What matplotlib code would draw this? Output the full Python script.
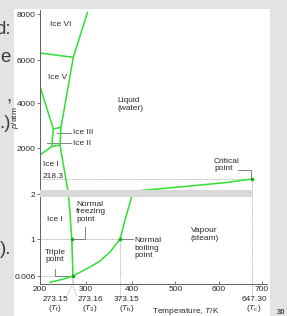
# Phasendiagramm von Wasser (schematisch) nachgezeichnet
import numpy as np
import matplotlib
matplotlib.use('Agg')
import matplotlib.pyplot as plt
from matplotlib.patches import Rectangle

plt.rcParams['font.family'] = ['Liberation Sans', 'DejaVu Sans']
plt.rcParams['mathtext.fontset'] = 'custom'
plt.rcParams['mathtext.it'] = 'Liberation Sans:italic'
plt.rcParams['mathtext.rm'] = 'Liberation Sans'

# Daten (T in K, p in atm)
melt_T = [244.3, 262.7, 266.5, 270.3, 273.16]
melt_p = [2133, 16.4, 1.58, 1.0, 0.006]

vap_T = [273.16, 309.3, 330.6, 351.9, 373.15, 384.6, 399.9, 409.8, 540.4, 608.6, 647.3]
vap_p = [0.006, 0.248, 0.409, 0.651, 1.0, 1.42, 1.94, 45.3, 121.7, 165.0, 218.3]

subl_T = [222.2, 248.8, 273.16]
subl_p = [0.0013, 0.0034, 0.006]

# Grenzen zwischen den Eisphasen
ice_I_II = ([200, 225.9], [1598, 2067])
ice_I_III = ([225.9, 244.3], [2067, 2133])
ice_II_III = ([225.9, 229.5], [2067, 2844])
ice_III_V = ([229.5, 246.6], [2844, 2920])
ice_III_liq = ([244.3, 246.6], [2133, 2920])
ice_II_V = ([200, 229.5], [4767, 2844])
ice_V_liq = ([246.6, 273.8], [2920, 6117])
ice_V_VI = ([200, 273.8], [6304, 6117])
ice_VI_liq = ([273.8, 304.4], [6117, 8100])

# besondere Punkte
pts_T = [273.16, 270.3, 373.15, 647.3]
pts_p = [0.006, 1.0, 1.0, 218.3]

xticks = [200, 300, 400, 500, 600, 700]
yticks = [0.006, 1, 2, 2000, 4000, 6000, 8000]
ytick_labels = ['0.006', '1', '2', '2000', '4000', '6000', '8000']

# schematische Achsen: stueckweise lineare Skalen
T_knots = [0, 200, 273.16, 373.15, 600, 647.3, 700, 2000]
T_pos = [-50, 40, 73, 120, 219, 252, 262, 825]
p_knots = [-1, 0, 0.006, 1, 2, 218.3, 2000, 4000, 6000, 8000, 20000]
p_pos = [-1333, 0, 8, 45, 90, 105, 136, 181, 224, 270, 546]

fT = lambda t: np.interp(t, T_knots, T_pos)
iT = lambda v: np.interp(v, T_pos, T_knots)
fp = lambda p: np.interp(p, p_knots, p_pos)
ip = lambda v: np.interp(v, p_pos, p_knots)

green = '#2fe02f'
dotc = '#a0a0a0'
txt = '#2a2a2a'
fs = 6

fig = plt.figure(figsize=(2.87, 3.16), dpi=100)
fig.patch.set_facecolor('#e3e3e3')
fig.add_artist(Rectangle((14/287, 0), 256/287, 307/316, transform=fig.transFigure,
                         facecolor='white', edgecolor='none', zorder=-1))

ax = fig.add_axes([40/287, 1-284/316, 226.8/287, 274/316])
ax.set_facecolor('none')
ax.set_xscale('function', functions=(fT, iT))
ax.set_yscale('function', functions=(fp, ip))
ax.set_xlim(200, 711)
ax.set_ylim(0, 8174)

# Hilfslinien (gepunktet)
dots = dict(color=dotc, lw=0.6, ls=(0, (1, 1)), zorder=1)
ax.plot([200, 273.16], [0.006, 0.006], **dots)
ax.plot([200, 373.15], [1, 1], **dots)
ax.plot([200, 647.3], [218.3, 218.3], **dots)
ax.plot([270.3, 270.3], [0, 1], **dots)
ax.plot([273.16, 273.16], [0, 0.006], **dots)
ax.plot([373.15, 373.15], [0, 1], **dots)
ax.plot([647.3, 647.3], [0, 218.3], **dots)
xt = ax.get_xaxis_transform()
ax.plot([270.3, 270.3, 259.9], [0, -0.007, -0.044], transform=xt, clip_on=False, **dots)
ax.plot([273.16, 273.16, 281.7], [0, -0.007, -0.044], transform=xt, clip_on=False, **dots)
ax.plot([373.15, 373.15], [0, -0.05], transform=xt, clip_on=False, **dots)
ax.plot([647.3, 647.3], [0, -0.047], transform=xt, clip_on=False, **dots)

# Phasengrenzen
lw = 1.1
ax.plot(melt_T, melt_p, color=green, lw=lw, zorder=2)
ax.plot(vap_T, vap_p, color=green, lw=lw, zorder=2)
ax.plot(subl_T, subl_p, color=green, lw=lw, zorder=2)
for seg in [ice_I_II, ice_I_III, ice_II_III, ice_III_V, ice_III_liq,
            ice_II_V, ice_V_liq, ice_V_VI, ice_VI_liq]:
    ax.plot(seg[0], seg[1], color=green, lw=lw, zorder=2, solid_capstyle='butt')
ax.plot(pts_T, pts_p, 'o', color='#18a818', ms=2.6, mec='none', zorder=4)

# grauer Balken (Achsenbruch)
ax.fill_between([200, 647.3], 1.94, 52.5, color='#d9d9d9', lw=0, zorder=3)

# Beschriftungen
lead = dict(color='#707070', lw=0.6, zorder=1)
ax.text(246.6, 7565, 'Ice VI', fontsize=fs, color=txt, ha='center', va='center')
ax.text(239.9, 5209, 'Ice V', fontsize=fs, color=txt, ha='center', va='center')
ax.plot([237.7, 268.7], [2680, 2680], **lead)
ax.text(273.16, 2680, 'Ice III', fontsize=fs, color=txt, ha='left', va='center')
ax.plot([214.9, 268.7], [2222, 2222], **lead)
ax.text(273.16, 2222, 'Ice II', fontsize=fs, color=txt, ha='left', va='center')
ax.text(366.8, 3933, 'Liquid\n(water)', fontsize=fs, color=txt, ha='left', va='center',
        linespacing=1.1)
ax.text(206.7, 1023, 'Ice I', fontsize=fs, color=txt, ha='left', va='center')
ax.text(206.7, 390, '218.3', fontsize=fs, color=txt, ha='left', va='center')
ax.text(233.3, 1.444, 'Ice I', fontsize=fs, color=txt, ha='center', va='center')
ax.plot([270.3, 298.7, 298.7], [1, 1, 1.273], **lead)
ax.text(279.5, 1.607, 'Normal\nfreezing\npoint', fontsize=fs, color=txt, ha='left',
        va='center', linespacing=1.1)
ax.plot([233.3, 233.3, 273.16], [0.194, 0.006, 0.006], **lead)
ax.text(233.3, 0.538, 'Triple\npoint', fontsize=fs, color=txt, ha='center', va='center',
        linespacing=1.1)
ax.plot([373.15, 403.0], [1, 1], **lead)
ax.text(405.2, 0.758, 'Normal\nboiling\npoint', fontsize=fs, color=txt, ha='left',
        va='center', linespacing=1.05)
ax.plot([627.2, 645.9, 645.9], [735, 735, 218.3], **lead)
ax.text(588.5, 1005, 'Critical\npoint', fontsize=fs, color=txt, ha='left', va='center',
        linespacing=1.05)
ax.text(535.1, 1.1, 'Vapour\n(steam)', fontsize=fs, color=txt, ha='left', va='center',
        linespacing=1.05)

# Temperaturen unter der Achse
for T, lab in [(233.3, '273.15\n($T_\\mathrm{f}$)'), (309.3, '273.16\n($T_3$)'),
               (389.2, '373.15\n($T_\\mathrm{b}$)'), (657.8, '647.30\n($T_\\mathrm{c}$)')]:
    ax.text(T, -0.0766, lab, transform=xt, fontsize=fs, color=txt, ha='center',
            va='center', linespacing=1.0)
ax.text(524.4, -0.1, 'Temperature, $T$/K', transform=xt, fontsize=fs, color=txt,
        ha='center', va='center')

# Achsen
for s in ['top', 'right']:
    ax.spines[s].set_visible(False)
for s in ['left', 'bottom']:
    ax.spines[s].set_color('#606060')
    ax.spines[s].set_linewidth(0.7)
ax.set_xticks(xticks)
ax.set_xticklabels([str(t) for t in xticks])
ax.set_yticks(yticks)
ax.set_yticklabels(ytick_labels)
ax.minorticks_off()
ax.tick_params(axis='x', direction='in', length=2.2, width=0.6, color='#606060',
               labelsize=fs, labelcolor=txt, pad=1.5)
ax.tick_params(axis='y', direction='out', length=2.2, width=0.6, color='#606060',
               labelsize=fs, labelcolor=txt, pad=1)
ax.set_ylabel('$p$/atm', fontsize=fs, color=txt)
ax.yaxis.set_label_coords(-0.083, 0.606)

# abgeschnittener Folientext links und Seitenzahl
for y, s in [(30, 'd:'), (58, 'e'), (97, ','), (123, '.)'), (249, ').')]:
    fig.text(11/287, 1 - y/316, s, fontsize=13.5, color='#3c3c3c', ha='right', va='center')
fig.text(281/287, 1 - 312/316, '30', fontsize=5.5, fontweight='bold', color='#444444',
         ha='center', va='center')

fig.savefig('out.png', dpi=100, facecolor=fig.get_facecolor())
